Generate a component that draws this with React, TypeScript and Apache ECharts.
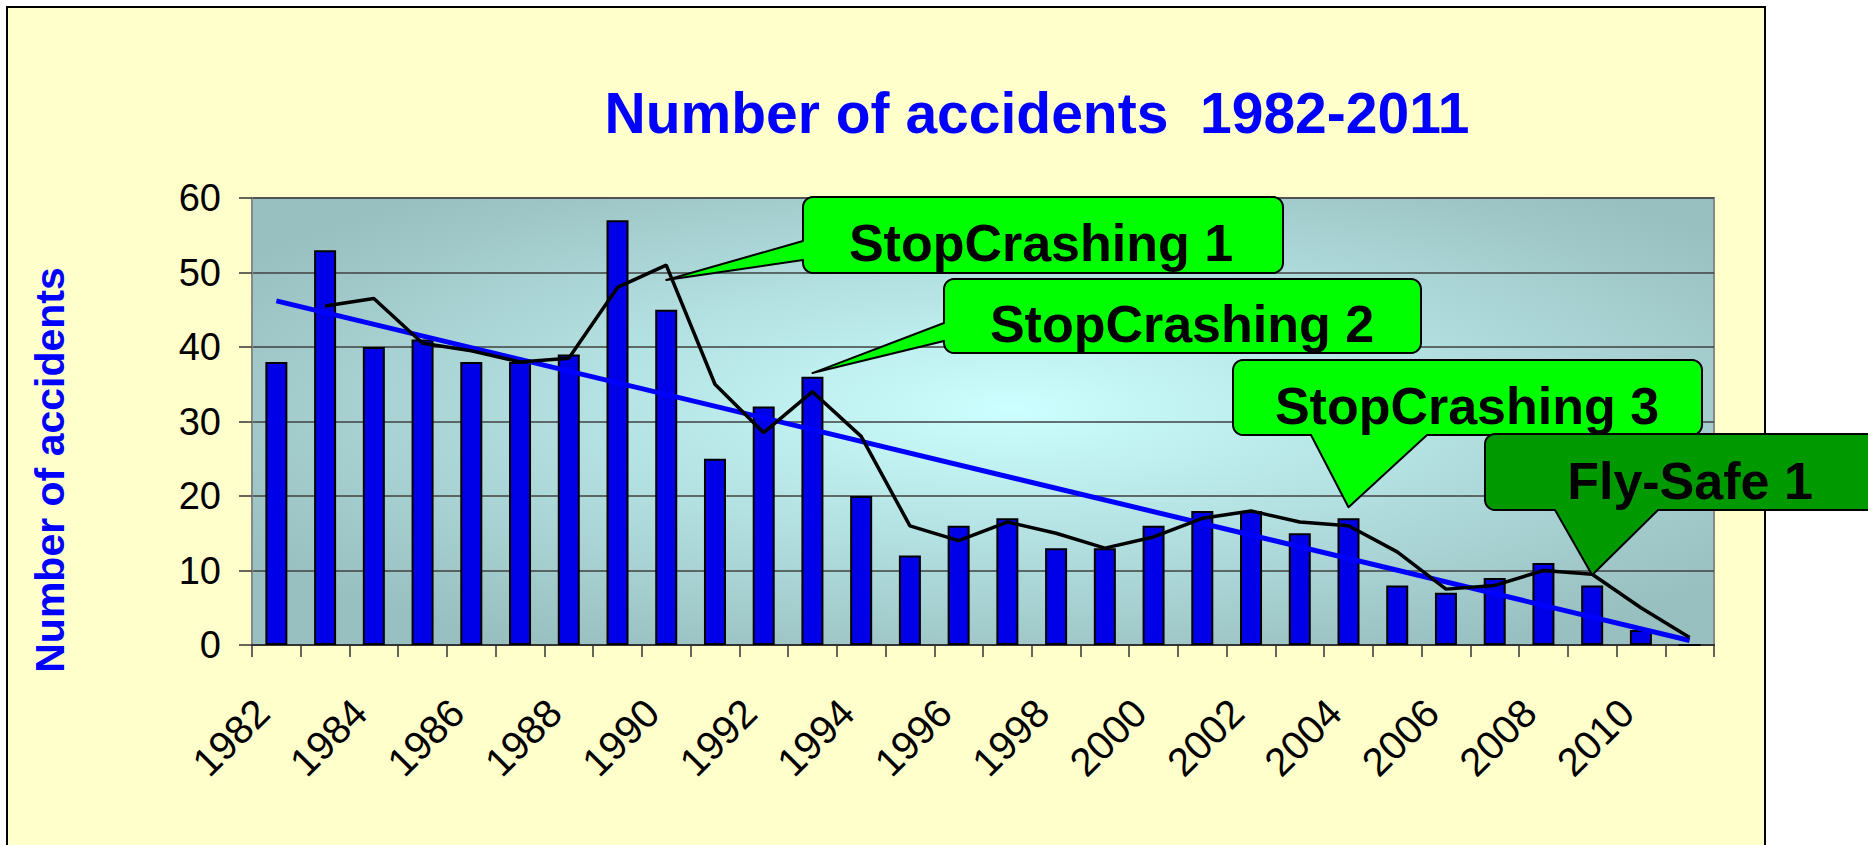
import React, { useEffect, useRef } from 'react';
import * as echarts from 'echarts';

// ---------------- data ----------------
const years = [
  '1982', '1983', '1984', '1985', '1986', '1987', '1988', '1989', '1990', '1991',
  '1992', '1993', '1994', '1995', '1996', '1997', '1998', '1999', '2000', '2001',
  '2002', '2003', '2004', '2005', '2006', '2007', '2008', '2009', '2010', '2011',
];
const accidents = [
  38, 53, 40, 41, 38, 38, 39, 57, 45, 25,
  32, 36, 20, 12, 16, 17, 13, 13, 16, 18,
  18, 15, 17, 8, 7, 9, 11, 8, 2, 0,
];
// two-year moving average as drawn (black line)
const movingAverage = [
  null, 45.5, 46.5, 40.5, 39.5, 38, 38.5, 48, 51, 35,
  28.5, 34, 28, 16, 14, 16.5, 15, 13, 14.5, 17,
  18, 16.5, 16, 12.5, 7.5, 8, 10, 9.5, 5, 1,
];
// linear trend line (blue) endpoints
const trendPoints: [string, number][] = [['1982', 46.2], ['2011', 0.6]];
const yMin = 0;
const yMax = 60;
const yInterval = 10;
const titleText = 'Number of accidents  1982-2011';
const yAxisTitle = 'Number of accidents';
const calloutLabels = ['StopCrashing 1', 'StopCrashing 2', 'StopCrashing 3', 'Fly-Safe 1'];
const calloutYears = ['1990', '1993', '2004', '2009'];
const calloutValues = [49, 36.5, 18.5, 9.4];

// ---------------- layout ----------------
const W = 1868;
const H = 845;
const GRID = { left: 252, top: 198, width: 1462, height: 447 };
const FONT = 'Arial, "Liberation Sans", Helvetica, sans-serif';

type BoxLayout = {
  x: number; y: number; w: number; h: number;
  side: 'left' | 'bottom'; base: [number, number];
  fill: string; tx: number; ty: number;
};
const boxLayouts: BoxLayout[] = [
  { x: 803, y: 197, w: 480, h: 76, side: 'left', base: [241, 260], fill: '#00FF00', tx: 1041, ty: 243 },
  { x: 944, y: 279, w: 477, h: 74, side: 'left', base: [323, 341], fill: '#00FF00', tx: 1182, ty: 324 },
  { x: 1233, y: 360, w: 469, h: 75, side: 'bottom', base: [1311, 1427], fill: '#00FF00', tx: 1467, ty: 406 },
  { x: 1485, y: 434, w: 420, h: 76, side: 'bottom', base: [1555, 1658], fill: '#009900', tx: 1690, ty: 481 },
];

function arc(cx: number, cy: number, r: number, a0: number, a1: number): number[][] {
  const pts: number[][] = [];
  const n = 6;
  for (let i = 0; i <= n; i++) {
    const a = ((a0 + ((a1 - a0) * i) / n) * Math.PI) / 180;
    pts.push([cx + r * Math.cos(a), cy + r * Math.sin(a)]);
  }
  return pts;
}

function calloutOutline(b: BoxLayout, tip: number[]): number[][] {
  const r = 10;
  const { x, y, w, h } = b;
  let pts: number[][] = [];
  pts = pts.concat(arc(x + r, y + r, r, 180, 270));
  pts = pts.concat(arc(x + w - r, y + r, r, 270, 360));
  pts = pts.concat(arc(x + w - r, y + h - r, r, 0, 90));
  if (b.side === 'bottom') {
    pts.push([b.base[1], y + h], tip, [b.base[0], y + h]);
  }
  pts = pts.concat(arc(x + r, y + h - r, r, 90, 180));
  if (b.side === 'left') {
    pts.push([x, b.base[1]], tip, [x, b.base[0]]);
  }
  return pts;
}

export default function App() {
  const ref = useRef<HTMLDivElement>(null);

  useEffect(() => {
    if (!ref.current) return;
    const chart = echarts.init(ref.current, null, { renderer: 'svg' });
    chart.setOption({
      animation: false,
      grid: {
        left: GRID.left,
        top: GRID.top,
        width: GRID.width,
        height: GRID.height,
        show: true,
        backgroundColor: 'transparent',
        borderColor: '#888888',
        borderWidth: 2,
      },
      xAxis: {
        type: 'category',
        data: years,
        boundaryGap: true,
        axisLine: { show: true, lineStyle: { color: '#333333', width: 2 } },
        axisTick: { show: true, interval: 0, length: 12, lineStyle: { color: '#333333', width: 1.5 } },
        axisLabel: {
          interval: 1,
          rotate: 45,
          margin: 75,
          verticalAlign: 'bottom',
          fontSize: 40,
          fontFamily: FONT,
          color: '#000000',
        },
        splitLine: { show: false },
      },
      yAxis: {
        type: 'value',
        min: yMin,
        max: yMax,
        interval: yInterval,
        axisLine: { show: true, lineStyle: { color: '#888888', width: 2 } },
        axisTick: { show: true, length: 13, lineStyle: { color: '#333333', width: 1.5 } },
        axisLabel: { margin: 31, fontSize: 38, fontFamily: FONT, color: '#000000' },
        splitLine: { show: true, lineStyle: { color: '#404040', width: 1.5 } },
      },
      series: [
        {
          type: 'bar',
          name: 'Accidents',
          data: accidents,
          barWidth: 22,
          itemStyle: { color: '#0000E8', borderColor: '#000000', borderWidth: 2 },
          z: 2,
        },
        {
          type: 'line',
          name: 'Trend',
          data: trendPoints,
          symbol: 'none',
          lineStyle: { color: '#0000FF', width: 5 },
          z: 3,
        },
        {
          type: 'line',
          name: 'Moving average',
          data: movingAverage,
          symbol: 'none',
          lineStyle: { color: '#000000', width: 3.5 },
          z: 4,
        },
      ],
    });

    const graphics: any[] = [
      {
        type: 'rect',
        z: -10,
        silent: true,
        shape: { x: 7, y: 7, width: 1758, height: 900 },
        style: { fill: '#FFFFCC', stroke: '#000000', lineWidth: 2 },
      },
      {
        type: 'rect',
        z: -5,
        silent: true,
        x: GRID.left,
        y: GRID.top,
        scaleX: GRID.width / GRID.height,
        shape: { x: 0, y: 0, width: GRID.height, height: GRID.height },
        style: {
          fill: new echarts.graphic.RadialGradient(0.52, 0.47, 0.62, [
            { offset: 0, color: '#CCFFFF' },
            { offset: 0.85, color: '#A0C8C9' },
            { offset: 1, color: '#99C0C1' },
          ]),
        },
      },
      {
        type: 'text',
        z: 50,
        x: 1037,
        y: 113,
        style: {
          text: titleText,
          fontSize: 57,
          fontWeight: 'bold',
          fontFamily: FONT,
          fill: '#0000FF',
          align: 'center',
          verticalAlign: 'middle',
        },
      },
      {
        type: 'text',
        z: 50,
        x: 50,
        y: 470,
        rotation: Math.PI / 2,
        style: {
          text: yAxisTitle,
          fontSize: 41,
          fontWeight: 'bold',
          fontFamily: FONT,
          fill: '#0000FF',
          align: 'center',
          verticalAlign: 'middle',
        },
      },
    ];

    boxLayouts.forEach((b, i) => {
      const tip = chart.convertToPixel({ xAxisIndex: 0, yAxisIndex: 0 }, [
        years.indexOf(calloutYears[i]),
        calloutValues[i],
      ]) as number[];
      graphics.push({
        type: 'polygon',
        z: 100 + i * 2,
        silent: true,
        shape: { points: calloutOutline(b, tip) },
        style: { fill: b.fill, stroke: '#000000', lineWidth: 2, lineJoin: 'round' },
      });
      graphics.push({
        type: 'text',
        z: 101 + i * 2,
        x: b.tx,
        y: b.ty,
        silent: true,
        style: {
          text: calloutLabels[i],
          fontSize: 52,
          fontWeight: 'bold',
          fontFamily: FONT,
          fill: '#000000',
          align: 'center',
          verticalAlign: 'middle',
        },
      });
    });

    chart.setOption({ graphic: graphics });

    return () => {
      chart.dispose();
    };
  }, []);

  return (
    <div
      ref={ref}
      style={{ position: 'fixed', left: 0, top: 0, width: W, height: H, background: '#FFFFFF' }}
    />
  );
}
